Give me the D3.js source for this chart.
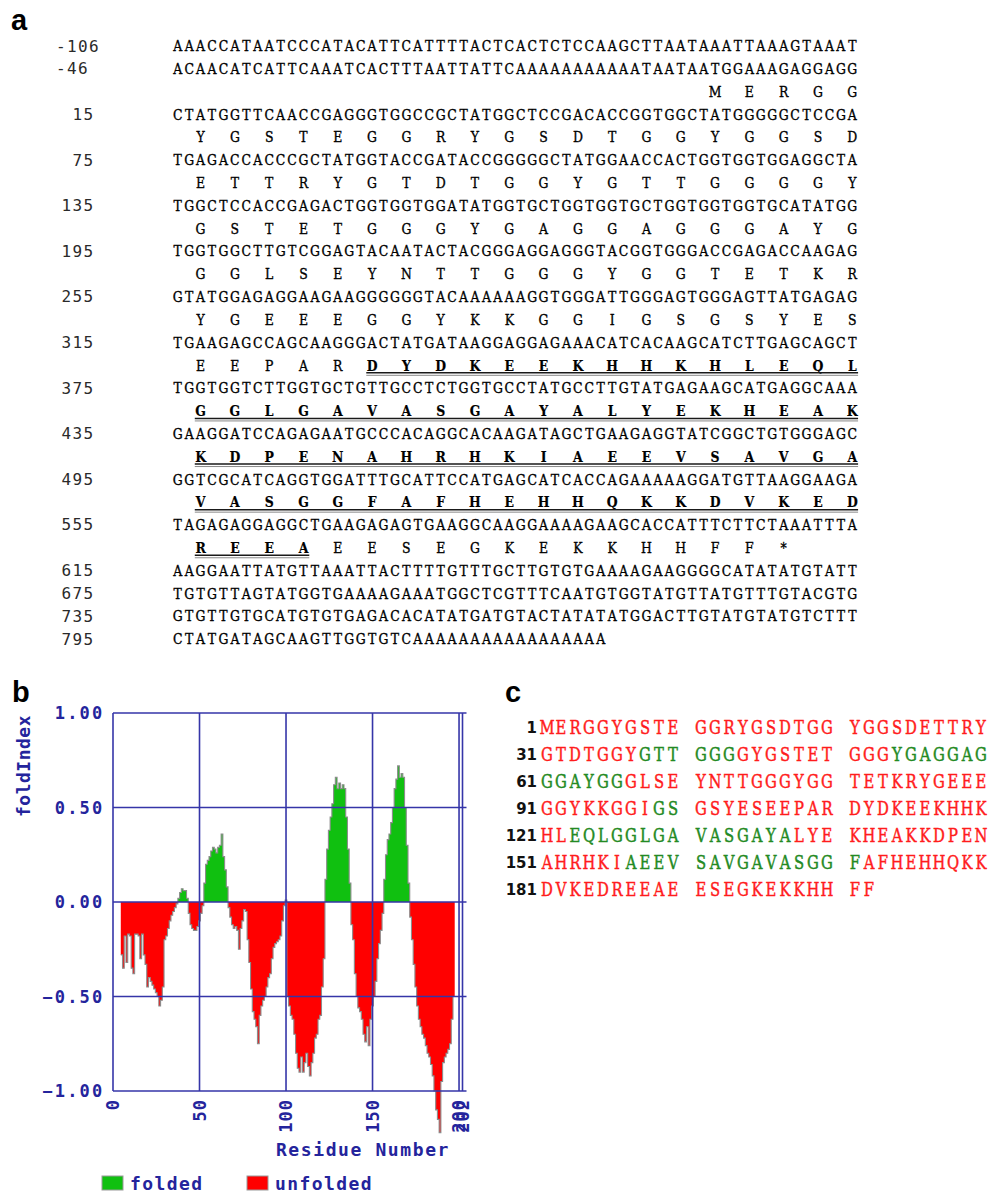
<!DOCTYPE html>
<html>
<head>
<meta charset="utf-8">
<title>cDNA, FoldIndex and disorder</title>
<script src="https://cdn.jsdelivr.net/npm/d3@7"></script>
<style>
  body { margin: 0; background: #fff; }
</style>
</head>
<body>
<div id="container"></div>
<script>
// chart size
const width = 992;
const height = 1192;

// ---- panel a : cDNA rows and the deduced protein ----
const dnaLabels = ["-106", "-46", "15", "75", "135", "195", "255", "315",
                   "375", "435", "495", "555", "615", "675", "735", "795"];
const dnaSeqs = [
  "AAACCATAATCCCATACATTCATTTTACTCACTCTCCAAGCTTAATAAATTAAAGTAAAT",
  "ACAACATCATTCAAATCACTTTAATTATTCAAAAAAAAAAATAATAATGGAAAGAGGAGG",
  "CTATGGTTCAACCGAGGGTGGCCGCTATGGCTCCGACACCGGTGGCTATGGGGGCTCCGA",
  "TGAGACCACCCGCTATGGTACCGATACCGGGGGCTATGGAACCACTGGTGGTGGAGGCTA",
  "TGGCTCCACCGAGACTGGTGGTGGATATGGTGCTGGTGGTGCTGGTGGTGGTGCATATGG",
  "TGGTGGCTTGTCGGAGTACAATACTACGGGAGGAGGGTACGGTGGGACCGAGACCAAGAG",
  "GTATGGAGAGGAAGAAGGGGGGTACAAAAAAGGTGGGATTGGGAGTGGGAGTTATGAGAG",
  "TGAAGAGCCAGCAAGGGACTATGATAAGGAGGAGAAACATCACAAGCATCTTGAGCAGCT",
  "TGGTGGTCTTGGTGCTGTTGCCTCTGGTGCCTATGCCTTGTATGAGAAGCATGAGGCAAA",
  "GAAGGATCCAGAGAATGCCCACAGGCACAAGATAGCTGAAGAGGTATCGGCTGTGGGAGC",
  "GGTCGCATCAGGTGGATTTGCATTCCATGAGCATCACCAGAAAAAGGATGTTAAGGAAGA",
  "TAGAGAGGAGGCTGAAGAGAGTGAAGGCAAGGAAAAGAAGCACCATTTCTTCTAAATTTA",
  "AAGGAATTATGTTAAATTACTTTTGTTTGCTTGTGTGAAAAGAAGGGGCATATATGTATT",
  "TGTGTTAGTATGGTGAAAAGAAATGGCTCGTTTCAATGTGGTATGTTATGTTTGTACGTG",
  "GTGTTGTGCATGTGTGAGACACATATGATGTACTATATATGGACTTGTATGTATGTCTTT",
  "CTATGATAGCAAGTTGGTGTCAAAAAAAAAAAAAAAAA"
];
// translated rows, each one sits under dna rows 1..11
const aaRows = [
  "MERGG",
  "YGSTEGGRYGSDTGGYGGSD",
  "ETTRYGTDTGGYGTTGGGGY",
  "GSTETGGGYGAGGAGGGAYG",
  "GGLSEYNTTGGGYGGTETKR",
  "YGEEEGGYKKGGIGSGSYES",
  "EEPARDYDKEEKHHKHLEQL",
  "GGLGAVASGAYALYEKHEAK",
  "KDPENAHRHKIAEEVSAVGA",
  "VASGGFAFHEHHQKKDVKED",
  "REEAEESEGKEKKHHFF*"
];
// residues shown bold and underlined
const underlinedRange = [111, 189];

// ---- panel b : FoldIndex per residue, starting at residue 5 ----
const foldStart = 5;
const foldIndex = [
  -0.28, -0.35, -0.18, -0.32, -0.17, -0.18, -0.35, -0.38, -0.17, -0.17,
  -0.18, -0.30, -0.17, -0.28, -0.33, -0.45, -0.40, -0.42, -0.44, -0.46,
  -0.48, -0.50, -0.55, -0.52, -0.45, -0.20, -0.18, -0.14, -0.10, -0.07,
  -0.05, -0.03, -0.01,
  0.02, 0.05, 0.07, 0.06, 0.06, 0.02,
  -0.06, -0.12, -0.14, -0.15, -0.15, -0.13, -0.10, -0.06, -0.02,
  0.10, 0.20, 0.22, 0.24, 0.27, 0.29, 0.28, 0.26, 0.29, 0.30, 0.36, 0.24, 0.17, 0.08,
  -0.03, -0.08, -0.12, -0.14, -0.13, -0.15, -0.25, -0.14, -0.10, -0.04,
  -0.05, -0.20, -0.32, -0.46, -0.58, -0.62, -0.66, -0.75, -0.60, -0.55,
  -0.52, -0.50, -0.45, -0.40, -0.38, -0.30, -0.24, -0.22, -0.21, -0.20,
  -0.18, -0.10, -0.02,
  0.01,
  -0.50, -0.55, -0.60, -0.62, -0.70, -0.80, -0.88, -0.90, -0.82, -0.90,
  -0.85, -0.80, -0.87, -0.92, -0.85, -0.80, -0.72, -0.70, -0.62, -0.60,
  -0.45, -0.30,
  0.12, 0.28, 0.38, 0.45, 0.52, 0.62, 0.66, 0.60, 0.63, 0.60, 0.62, 0.60, 0.45, 0.28, 0.10,
  -0.12, -0.20, -0.38, -0.50, -0.56, -0.58, -0.62, -0.70, -0.74, -0.66,
  -0.76, -0.62, -0.55, -0.50, -0.42, -0.30, -0.22, -0.15, -0.06,
  0.12, 0.25, 0.33, 0.36, 0.42, 0.50, 0.60, 0.65, 0.72, 0.66, 0.68, 0.66, 0.50, 0.30, 0.10,
  -0.08, -0.20, -0.33, -0.45, -0.55, -0.62, -0.66, -0.70, -0.72, -0.76,
  -0.80, -0.82, -0.86, -0.92, -1.00, -1.10, -1.15, -1.22, -0.95, -0.85,
  -0.82, -0.80, -0.78, -0.75, -0.62, -0.50
];
const xTicks = [0, 50, 100, 150, 200, 202];
const yTicks = [1, 0.5, 0, -0.5, -1];
const legendLabels = ["folded", "unfolded"];

// ---- panel c : folded stretches of the protein ----
const foldedRanges = [[38, 43], [54, 66], [99, 100], [123, 137], [157, 171]];

// colours
const navy = "#24249c";
const gridBlue = "#3535a8";
const green = "#10c010";
const red = "#ff0000";
const seqRed = "#ff1c1c";
const seqGreen = "#238a23";
const seqFont = "'DejaVu Serif', serif";
const plotFont = "'DejaVu Sans Mono', monospace";

const svg = d3.select("#container").append("svg")
  .attr("width", width)
  .attr("height", height);

svg.append("rect").attr("width", width).attr("height", height).attr("fill", "#fff");

// panel letters
svg.selectAll("text.panel")
  .data([["a", 11, 30], ["b", 12, 702], ["c", 505, 702]])
  .join("text")
  .attr("class", "panel")
  .attr("x", d => d[1]).attr("y", d => d[2])
  .attr("font-family", "'Liberation Sans', Arial, sans-serif")
  .attr("font-weight", "bold")
  .attr("font-size", 29)
  .text(d => d[0]);

// ================= panel a =================
const colX = d3.scaleLinear().domain([0, 60]).range([172, 858]);
const rowY = d3.scaleLinear().domain([0, 26]).range([46, 639]);

// nucleotide number for index i in a row (no zero in numbering)
function ntPos(label, i) {
  let p = +label + i;
  if (+label < 0 && p >= 0) p += 1;
  return p;
}

let lines = [];
dnaLabels.forEach((lab, k) => {
  lines.push({ kind: "dna", label: lab, seq: dnaSeqs[k] });
  if (k >= 1 && k <= aaRows.length) {
    const centers = [];
    for (let i = 0; i < 60; i++) {
      const p = ntPos(lab, i);
      if (p >= 1 && (p - 1) % 3 === 1) centers.push({ i: i, res: (p + 1) / 3 });
    }
    const letters = aaRows[k - 1].split("").map((c, j) => ({
      c: c, i: centers[j].i, res: centers[j].res,
      bold: centers[j].res >= underlinedRange[0] && centers[j].res <= underlinedRange[1] && c !== "*"
    }));
    lines.push({ kind: "aa", letters: letters });
  }
});

const gA = svg.append("g");
lines.forEach((ln, li) => {
  const yc = rowY(li);
  if (ln.kind === "dna") {
    const neg = +ln.label < 0;
    gA.append("text")
      .attr("x", neg ? 56 : 94.5)
      .attr("y", yc + 5.5)
      .attr("text-anchor", neg ? "start" : "end")
      .attr("font-family", plotFont)
      .attr("font-size", 16)
      .attr("letter-spacing", 1.4)
      .attr("fill", "#2a2a2a")
      .text(ln.label);
    gA.append("g").selectAll("text")
      .data(ln.seq.split(""))
      .join("text")
      .attr("transform", (d, i) => `translate(${colX(i + 0.5)},${yc + 5.2}) scale(0.86,1)`)
      .attr("text-anchor", "middle")
      .attr("font-family", seqFont)
      .attr("font-size", 14.5)
      .attr("fill", "#000")
      .attr("stroke", "#000")
      .attr("stroke-width", 0.35)
      .text(d => d);
  } else {
    gA.append("g").selectAll("text")
      .data(ln.letters)
      .join("text")
      .attr("transform", d => `translate(${colX(d.i + 0.5)},${yc + 5.2}) scale(0.86,1)`)
      .attr("text-anchor", "middle")
      .attr("font-family", seqFont)
      .attr("font-size", 14.5)
      .attr("font-weight", d => d.bold ? "bold" : "normal")
      .attr("fill", "#000")
      .attr("stroke", "#000")
      .attr("stroke-width", d => d.bold ? 0.2 : 0.35)
      .text(d => d.c);
    const b = ln.letters.filter(d => d.bold);
    if (b.length) {
      const x1 = colX(b[0].i + 0.5) - 5.8;
      const x2 = colX(b[b.length - 1].i + 0.5) + 5.8;
      gA.append("line").attr("x1", x1).attr("x2", x2)
        .attr("y1", yc + 7.5).attr("y2", yc + 7.5)
        .attr("stroke", "#1a1a1a").attr("stroke-width", 1.5);
      gA.append("line").attr("x1", x1).attr("x2", x2)
        .attr("y1", yc + 10).attr("y2", yc + 10)
        .attr("stroke", "#8a8a8a").attr("stroke-width", 1);
    }
  }
});

// ================= panel b =================
const x = d3.scaleLinear().domain([0, 202]).range([113, 462.5]);
const y = d3.scaleLinear().domain([-1, 1]).range([1091, 713]);

const foldData = foldIndex.map((v, i) => ({ r: foldStart + i, v: v }));
// pad both ends so the step areas close at the window edges
const padded = [{ r: foldStart - 0.5, v: foldIndex[0] }]
  .concat(foldData)
  .concat([{ r: foldStart + foldIndex.length - 0.5, v: foldIndex[foldIndex.length - 1] }]);
const gB = svg.append("g");

const posArea = d3.area()
  .x(d => x(d.r))
  .y0(y(0))
  .y1(d => y(Math.max(d.v, 0)))
  .curve(d3.curveStep);
const negArea = d3.area()
  .x(d => x(d.r))
  .y0(y(0))
  .y1(d => y(Math.min(d.v, 0)))
  .curve(d3.curveStep);

gB.append("path").attr("d", posArea(padded)).attr("fill", green);
gB.append("path").attr("d", negArea(padded)).attr("fill", red);

// grey outline of the profile
const stepLine = d3.line()
  .x(d => x(d.r))
  .y(d => y(d.v))
  .curve(d3.curveStep);
gB.append("path")
  .attr("d", stepLine(padded))
  .attr("fill", "none")
  .attr("stroke", "#8c8c8c")
  .attr("stroke-width", 1.1);

// grid
gB.append("g").selectAll("line")
  .data(yTicks)
  .join("line")
  .attr("x1", x(0)).attr("x2", x(202) + 4)
  .attr("y1", d => y(d)).attr("y2", d => y(d))
  .attr("stroke", gridBlue).attr("stroke-width", 1.6);
gB.append("g").selectAll("line")
  .data(xTicks)
  .join("line")
  .attr("x1", d => x(d)).attr("x2", d => x(d))
  .attr("y1", y(1)).attr("y2", y(-1))
  .attr("stroke", gridBlue).attr("stroke-width", 1.6);

// y tick labels
gB.append("g").selectAll("text")
  .data(yTicks)
  .join("text")
  .attr("x", 104.5)
  .attr("y", d => y(d) + 6)
  .attr("text-anchor", "end")
  .attr("font-family", plotFont)
  .attr("font-weight", "bold")
  .attr("font-size", 17)
  .attr("letter-spacing", 2.2)
  .attr("fill", navy)
  .text(d => d3.format(".2f")(d));

// x tick labels, turned
gB.append("g").selectAll("text")
  .data(xTicks)
  .join("text")
  .attr("transform", d => `translate(${x(d)},1099) rotate(-90)`)
  .attr("dy", "0.36em")
  .attr("text-anchor", "end")
  .attr("font-family", plotFont)
  .attr("font-weight", "bold")
  .attr("font-size", 17)
  .attr("letter-spacing", 1)
  .attr("fill", navy)
  .text(d => d);

gB.append("text")
  .attr("transform", "translate(30,766) rotate(-90)")
  .attr("text-anchor", "middle")
  .attr("font-family", plotFont)
  .attr("font-weight", "bold")
  .attr("font-size", 18)
  .attr("letter-spacing", 0.5)
  .attr("fill", navy)
  .text("foldIndex");

gB.append("text")
  .attr("x", 363).attr("y", 1156)
  .attr("text-anchor", "middle")
  .attr("font-family", plotFont)
  .attr("font-weight", "bold")
  .attr("font-size", 18)
  .attr("letter-spacing", 1.6)
  .attr("fill", navy)
  .text("Residue Number");

// legend
const legend = gB.append("g").selectAll("g")
  .data(legendLabels)
  .join("g")
  .attr("transform", (d, i) => `translate(${i === 0 ? 102 : 247},1176)`);
legend.append("rect")
  .attr("width", 21).attr("height", 14)
  .attr("fill", (d, i) => i === 0 ? green : red)
  .attr("stroke", "#9a9a9a").attr("stroke-width", 1);
legend.append("text")
  .attr("x", 28).attr("y", 14)
  .attr("font-family", plotFont)
  .attr("font-weight", "bold")
  .attr("font-size", 18)
  .attr("letter-spacing", 1.4)
  .attr("fill", navy)
  .text(d => d);

// ================= panel c =================
const protein = aaRows.join("").replace("*", "");
const seqX = d3.scaleLinear().domain([0, 32]).range([540, 988]);
const seqRowY = d3.scaleLinear().domain([0, 6]).range([727, 889]);
const isFolded = r => foldedRanges.some(g => r >= g[0] && r <= g[1]);

const gC = svg.append("g");
d3.range(0, Math.ceil(protein.length / 30)).forEach(k => {
  const yc = seqRowY(k);
  const start = k * 30 + 1;
  gC.append("text")
    .attr("x", 537).attr("y", yc + 5.5)
    .attr("text-anchor", "end")
    .attr("font-family", "'DejaVu Sans', sans-serif")
    .attr("font-weight", "bold")
    .attr("font-size", 15)
    .attr("fill", "#111")
    .text(start);
  const chars = protein.slice(start - 1, start + 29).split("")
    .map((c, j) => ({ c: c, res: start + j, col: j + Math.floor(j / 10) }));
  gC.append("g").selectAll("text")
    .data(chars)
    .join("text")
    .attr("transform", d => `translate(${seqX(d.col + 0.5)},${yc + 6.5}) scale(0.8,1)`)
    .attr("text-anchor", "middle")
    .attr("font-family", seqFont)
    .attr("font-size", 18.5)
    .attr("fill", d => isFolded(d.res) ? seqGreen : seqRed)
    .attr("stroke", d => isFolded(d.res) ? seqGreen : seqRed)
    .attr("stroke-width", 0.45)
    .text(d => d.c);
});
</script>
</body>
</html>
